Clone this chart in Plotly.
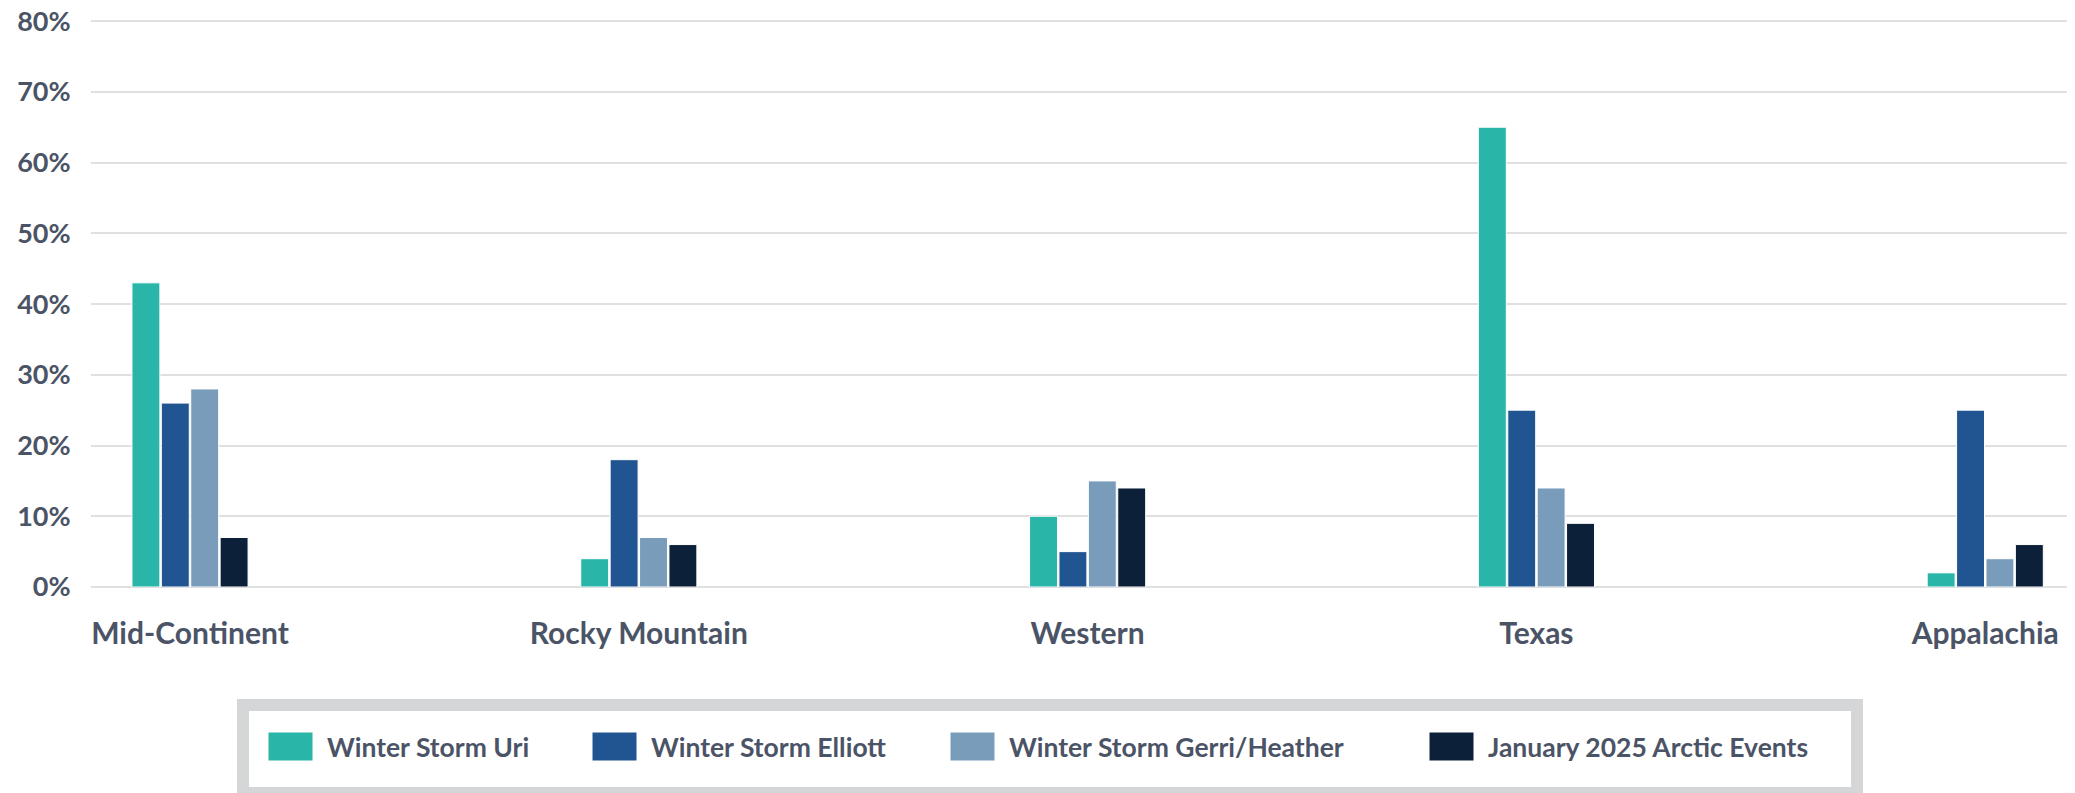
import plotly.graph_objects as go

# Datos: porcentaje por región y evento invernal
regions = ["Mid-Continent", "Rocky Mountain", "Western", "Texas", "Appalachia"]
storm_uri = [43, 4, 10, 65, 2]
storm_elliott = [26, 18, 5, 25, 25]
storm_gerri = [28, 7, 15, 14, 4]
arctic_2025 = [7, 6, 14, 9, 6]

series_names = ["Winter Storm Uri", "Winter Storm Elliott",
                "Winter Storm Gerri/Heather", "January 2025 Arctic Events"]
series_values = [storm_uri, storm_elliott, storm_gerri, arctic_2025]
colors = ["#29b6a9", "#215591", "#7a9cbb", "#0c2039"]

y_ticks = [0, 10, 20, 30, 40, 50, 60, 70, 80]
y_tick_labels = ["0%", "10%", "20%", "30%", "40%", "50%", "60%", "70%", "80%"]

# La página tiene un margen de 8px en el body, se descuenta del tamaño
OFF = 8
W, H = 2075 - OFF, 793 - OFF
L, R, T, B = 91 - OFF, 0, 11, 206
plot_w = W - L - R
plot_h = H - T - B
text_color = "#4b5466"


def px_x(px):
    # px en coordenadas de la captura de referencia
    return (px - OFF - L) / plot_w


def px_y(py):
    return (H - B - (py - OFF)) / plot_h


fig = go.Figure()
for name, vals, col in zip(series_names, series_values, colors):
    fig.add_trace(go.Bar(
        x=regions, y=vals, name=name,
        marker=dict(color=col, line=dict(color="white", width=1)),
        showlegend=False,
        hovertemplate="%{x}<br>" + name + ": %{y}%<extra></extra>",
    ))

# Leyenda dibujada a mano (recuadro gris grueso con muestras grandes)
shapes = [dict(
    type="rect", xref="paper", yref="paper",
    x0=px_x(243), x1=px_x(1857), y0=px_y(705), y1=px_y(793),
    line=dict(color="#d5d6d8", width=12), fillcolor="white", layer="below",
)]
annotations = []
legend_x = [268, 592, 950, 1429]
for lx, name, col in zip(legend_x, series_names, colors):
    shapes.append(dict(
        type="rect", xref="paper", yref="paper",
        x0=px_x(lx), x1=px_x(lx + 45), y0=px_y(732), y1=px_y(761),
        line=dict(color="white", width=1), fillcolor=col,
    ))
    annotations.append(dict(
        text=name, xref="paper", yref="paper",
        x=px_x(lx + 57), y=px_y(747), xanchor="left", yanchor="middle",
        showarrow=False,
        font=dict(family="Lato", size=26.5, weight=700, color=text_color),
    ))

fig.update_layout(
    width=W, height=H,
    margin=dict(l=L, r=R, t=T, b=B),
    paper_bgcolor="white", plot_bgcolor="white",
    barmode="group", bargap=0.738, bargroupgap=0.05,
    font=dict(family="Lato", color=text_color),
    shapes=shapes, annotations=annotations,
    xaxis=dict(
        type="category", range=[-0.2206, 4.2], automargin=False,
        showgrid=False, showline=False, zeroline=False,
        ticks="outside", ticklen=20, tickcolor="rgba(0,0,0,0)",
        tickfont=dict(size=30, weight=700, color=text_color),
    ),
    yaxis=dict(
        range=[0, 80.3], tickmode="array", automargin=False,
        tickvals=y_ticks, ticktext=y_tick_labels,
        ticklabeloverflow="allow",
        showgrid=True, gridcolor="#e0e0e0", gridwidth=1.5,
        zeroline=True, zerolinecolor="#e0e0e0", zerolinewidth=1.5,
        ticks="outside", ticklen=14, tickcolor="rgba(0,0,0,0)",
        tickfont=dict(size=27, weight=700, color=text_color),
    ),
)

fig.write_html("out.html")
